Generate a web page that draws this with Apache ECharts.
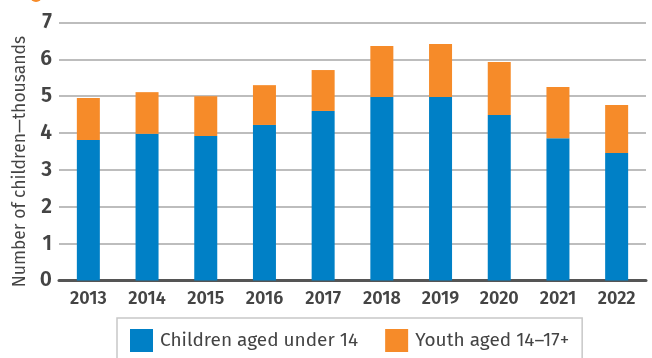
<!DOCTYPE html>
<html>
<head>
<meta charset="utf-8">
<script src="https://cdn.jsdelivr.net/npm/echarts@6/dist/echarts.min.js"></script>
<style>
  html, body { margin: 0; padding: 0; background: #fff; }
  #chart { width: 652px; height: 358px; }
</style>
</head>
<body>
<div id="chart"></div>
<script>
// Children in care by age group, thousands
const years = ['2013', '2014', '2015', '2016', '2017', '2018', '2019', '2020', '2021', '2022'];
const childrenUnder14 = [3.81, 3.98, 3.92, 4.22, 4.60, 4.98, 4.98, 4.49, 3.86, 3.46];
const youth14to17 = [1.14, 1.13, 1.08, 1.08, 1.11, 1.38, 1.44, 1.44, 1.39, 1.30];
const yTicks = [0, 1, 2, 3, 4, 5, 6, 7];

const seriesNames = ['Children aged under 14', 'Youth aged 14\u201317+'];
const BLUE = '#0080c6';
const ORANGE = '#f68b29';
const FONT = '"Fira Sans", "Open Sans", "Noto Sans", sans-serif';

const chart = echarts.init(document.getElementById('chart'), null, { renderer: 'canvas' });

chart.setOption({
  animation: false,
  grid: { left: 59, right: 6, top: 22.5, bottom: 77.5, containLabel: false },
  legend: {
    data: seriesNames,
    left: 117,
    top: 318,
    width: 472,
    padding: [11, 13, 11, 13],
    itemGap: 27,
    itemWidth: 23,
    itemHeight: 23,
    borderColor: '#c8c8c8',
    borderWidth: 1.5,
    icon: 'rect',
    textStyle: { fontFamily: FONT, fontSize: 19, color: '#444', padding: [0, 0, 0, 2] }
  },
  xAxis: {
    type: 'category',
    data: years,
    axisTick: { show: false },
    axisLine: { show: true, lineStyle: { color: '#555', width: 3 } },
    axisLabel: { fontFamily: FONT, fontSize: 18, fontWeight: 600, color: '#444', margin: 9 }
  },
  yAxis: {
    type: 'value',
    min: yTicks[0],
    max: yTicks[yTicks.length - 1],
    interval: 1,
    name: 'Number of children\u2014thousands',
    nameLocation: 'middle',
    nameGap: 28,
    nameTextStyle: { fontFamily: FONT, fontSize: 17.5, color: '#444', padding: [0, 20, 0, 0] },
    axisLine: { show: false },
    axisTick: { show: false },
    splitLine: { lineStyle: { color: '#bdbdbd', width: 2 } },
    axisLabel: { fontFamily: FONT, fontSize: 21, fontWeight: 600, color: '#444', margin: 7 }
  },
  series: [
    {
      name: seriesNames[0],
      type: 'bar',
      stack: 'total',
      data: childrenUnder14,
      barWidth: 23,
      itemStyle: { color: BLUE }
    },
    {
      name: seriesNames[1],
      type: 'bar',
      stack: 'total',
      data: youth14to17,
      barWidth: 23,
      itemStyle: { color: ORANGE }
    }
  ],
  graphic: [
    { type: 'circle', shape: { cx: 36, cy: -4, r: 6 }, style: { fill: ORANGE } }
  ]
});
</script>
</body>
</html>
